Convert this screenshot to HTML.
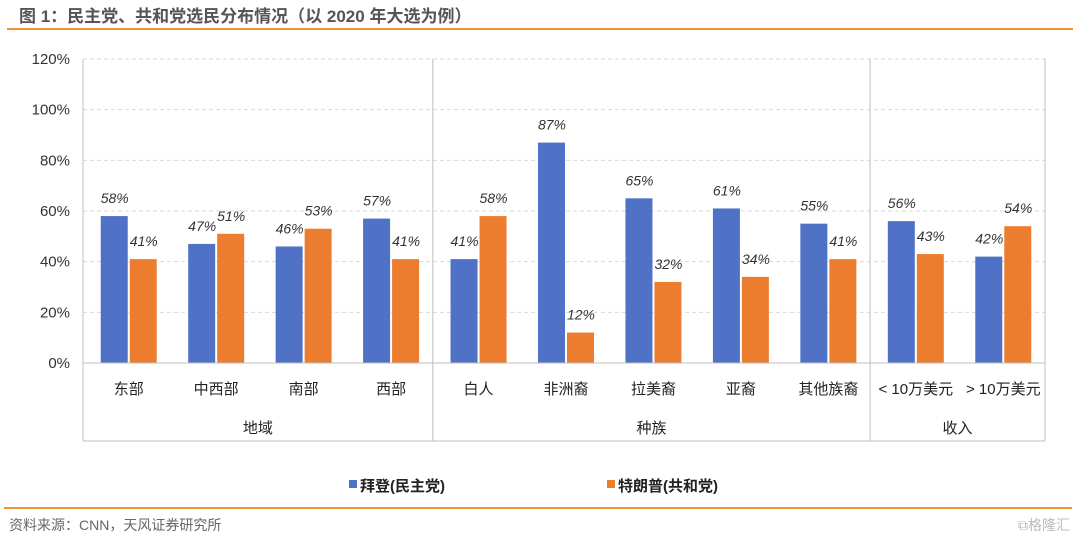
<!DOCTYPE html>
<html><head><meta charset="utf-8"><style>
body{margin:0;width:1080px;height:541px;background:#fff;font-family:"Liberation Sans","Noto Sans CJK SC",sans-serif;overflow:hidden;position:relative}
</style></head><body>
<div style="position:absolute;left:19px;top:2px;font-size:17px;font-weight:bold;color:#555">图 1：民主党、共和党选民分布情况（以 2020 年大选为例）</div>
<div style="position:absolute;left:7px;top:28px;width:1066px;height:2px;background:#f0922f"></div>
<svg id="chart" width="1080" height="541" style="position:absolute;left:0;top:0"></svg>
<div style="position:absolute;left:4px;top:507px;width:1068px;height:2px;background:#f0922f"></div>
<div style="position:absolute;left:9px;top:515px;font-size:14px;color:#666">资料来源：CNN，天风证券研究所</div>
<div style="position:absolute;left:1018px;top:515px;font-size:14px;color:#bbb">⧉格隆汇</div>
<script>
const categories=["东部","中西部","南部","西部","白人","非洲裔","拉美裔","亚裔","其他族裔","< 10万美元","> 10万美元"];
const biden=[58,47,46,57,41,87,65,61,55,56,42];
const trump=[41,51,53,41,58,12,32,34,41,43,54];
const groups=["地域","种族","收入"];
const groupSizes=[4,5,2];
const yTicks=[0,20,40,60,80,100,120];
const svg=document.getElementById('chart');
const NS='http://www.w3.org/2000/svg';
const X0=83,X1=1045,Y0=363,Ytop=59;
const bw=(X1-X0)/categories.length;
const y=v=>Y0-(v/120)*(Y0-Ytop);
function mk(t,a,txt){const e=document.createElementNS(NS,t);for(const k in a)e.setAttribute(k,a[k]);if(txt!==undefined)e.textContent=txt;svg.appendChild(e);return e;}
yTicks.forEach(t=>{
 if(t>0){const l=mk('line',{x1:X0,x2:X1,y1:y(t),y2:y(t),stroke:'#d9d9d9','stroke-dasharray':'4,3'});
 
 }
 const tx=mk('text',{x:70,y:y(t)+5,'text-anchor':'end','font-size':15,fill:'#333'},t+'%');
 
 
});
categories.forEach((c,i)=>{
 const cx=X0+bw*(i+0.5)+2;
 const b=mk('rect',{x:cx-28,y:y(biden[i]),width:27,height:Y0-y(biden[i]),fill:'#4f72c7'});
 
 
 const o=mk('rect',{x:cx+1,y:y(trump[i]),width:27,height:Y0-y(trump[i]),fill:'#ec7d2f'});
 
 
 const lb=mk('text',{x:cx-14,y:y(biden[i])-13,'text-anchor':'middle','font-size':14,'font-style':'italic',fill:'#333'},biden[i]+'%');
 
 
 const lt=mk('text',{x:cx+15,y:y(trump[i])-13,'text-anchor':'middle','font-size':14,'font-style':'italic',fill:'#333'},trump[i]+'%');
 
 
 const cl=mk('text',{x:cx,y:394,'text-anchor':'middle','font-size':15,fill:'#222'},c);
 
 
});
mk('line',{x1:X0,x2:X1,y1:Y0,y2:Y0,stroke:'#bfbfbf'});
let start=0;
[X0].concat(groupSizes.map((s,k)=>{start+=s;return X0+bw*start;})).forEach(x=>{
 const l=mk('line',{x1:x,x2:x,y1:Ytop,y2:441,stroke:'#bfbfbf'});
 
 
});
mk('line',{x1:X0,x2:X1,y1:441,y2:441,stroke:'#bfbfbf'});
start=0;
groups.forEach((g,k)=>{
 const cx=X0+bw*(start+groupSizes[k]/2);start+=groupSizes[k];
 const t=mk('text',{x:cx,y:433,'text-anchor':'middle','font-size':15,fill:'#222'},g);
 
 
});
const leg=[['拜登(民主党)','#4f72c7',349],['特朗普(共和党)','#ec7d2f',607]];
leg.forEach(([n,c,x])=>{
 const r=mk('rect',{x:x,y:480,width:8,height:8,fill:c});
 
 
 const t=mk('text',{x:x+11,y:491,'font-size':15,'font-weight':'bold',fill:'#222'},n);
 
 
});
</script>
</body></html>
